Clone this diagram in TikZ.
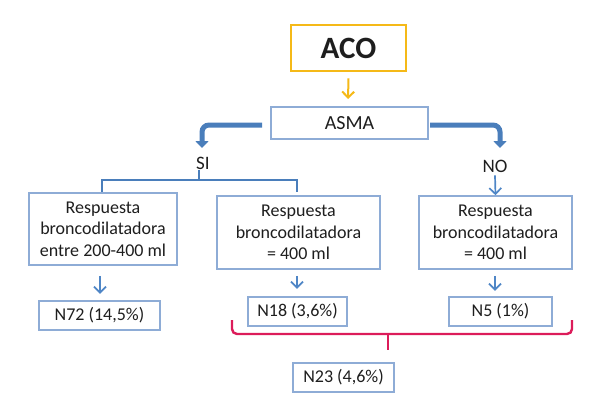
\documentclass[tikz,border=0pt]{standalone}
\usepackage{fontspec}
\setmainfont{Carlito}
\usetikzlibrary{arrows.meta}
\definecolor{boxblue}{HTML}{8EACD6}
\definecolor{arrblue}{HTML}{4F86C6}
\definecolor{thickblue}{HTML}{4A7EBB}
\definecolor{gold}{HTML}{F5B918}
\definecolor{pinkred}{HTML}{DC1C5A}
\definecolor{txt}{HTML}{1E1E1E}
\tikzset{
  bx/.style={draw=boxblue, line width=1.6pt, fill=white, text=txt, inner sep=0pt, font=\fontsize{18}{21.5}\selectfont, align=center},
  thinarr/.style={draw=arrblue, line width=1.7pt, -{Straight Barb[length=6pt,width=12pt,line width=1.7pt]}},
  thickarr/.style={draw=thickblue, line width=5pt, rounded corners=7pt, -{Triangle[length=7pt,width=13pt]}},
  lbl/.style={text=txt, font=\fontsize{19}{20}\selectfont, inner sep=0pt}
}
\begin{document}
\begin{tikzpicture}[x=1pt,y=-1pt]
\useasboundingbox (0,0) rectangle (597,396);
% ACO
\node[draw=gold, line width=2.6pt, minimum width=115pt, minimum height=46pt, inner sep=0pt, text=txt, font=\fontsize{31}{32}\selectfont\bfseries] (aco) at (348.5,48) {ACO};
\node[bx, minimum width=157pt, minimum height=32pt, font=\fontsize{20}{21}\selectfont] (asma) at (349.5,123) {ASMA};
\draw[draw=gold, line width=2pt, -{Straight Barb[length=6pt,width=12pt,line width=2pt]}] (aco.south) ++(0,6) coordinate (acoA) -- (348,99) coordinate (acoB);
% thick arrows
\coordinate (lA) at (262,125);
\coordinate (rA) at (430,125);
\draw[thickarr] (lA) -- (202,125) -- (202,148) coordinate (lB);
\draw[thickarr] (rA) -- (500,125) -- (500,148) coordinate (rB);
\node[lbl] (si) at (203,163) {SI};
\node[lbl] (no) at (495,166) {NO};
% SI bracket
\draw[draw=thickblue, line width=2.2pt] (102,192) -- (102,180) -- (297,180) -- (297,192);
\draw[draw=thickblue, line width=1.6pt] (199,170) -- (199,180);
% boxes
\node[bx, minimum width=148pt, minimum height=72pt] (b1) at (103,229) {Respuesta\\broncodilatadora\\entre 200-400 ml};
\node[bx, minimum width=163pt, minimum height=73pt] (b2) at (298.5,232.5) {Respuesta\\broncodilatadora\\= 400 ml};
\node[bx, minimum width=153pt, minimum height=73pt] (b3) at (495.5,232.5) {Respuesta\\broncodilatadora\\= 400 ml};
\draw[thinarr] (no.south) ++(0,3) -- (b3.north);
% result boxes
\node[bx, minimum width=121pt, minimum height=29pt] (n72) at (99.5,315.5) {N72 (14,5\%)};
\node[bx, minimum width=99pt, minimum height=29pt] (n18) at (297.5,311.5) {N18 (3,6\%)};
\node[bx, minimum width=103pt, minimum height=29pt] (n5) at (500.5,311.5) {N5 (1\%)};
\node[bx, minimum width=101pt, minimum height=29pt] (n23) at (343.5,377.5) {N23 (4,6\%)};
\draw[thinarr] (b1.south) ++(-3,10) -- ++(0,18);
\draw[thinarr] (b2.south) ++(-1.5,6) -- ++(0,13);
\draw[thinarr] (b3.south) ++(-0.5,6) -- ++(0,15);
% pink bracket
\draw[draw=pinkred, line width=2.4pt, rounded corners=5pt] (232,320) -- (232,334) -- (572,334) -- (572,320);
\draw[draw=pinkred, line width=1.4pt] (388,334) -- (388,350);
\end{tikzpicture}
\end{document}
